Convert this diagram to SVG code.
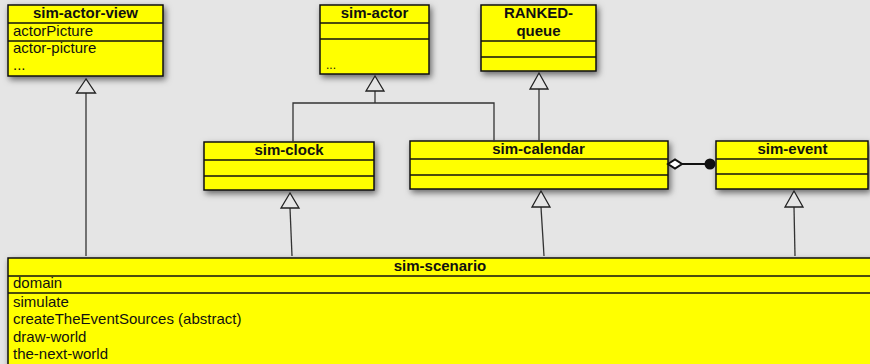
<svg xmlns="http://www.w3.org/2000/svg" width="870" height="364" viewBox="0 0 870 364">
<defs>
<filter id="sh" x="-10%" y="-20%" width="130%" height="150%">
<feDropShadow dx="2" dy="3" stdDeviation="3" flood-color="#000" flood-opacity="0.55"/>
</filter>
</defs>
<style>
.box{fill:#ffff00;stroke:#111;stroke-width:1.5}
.sep{stroke:#111;stroke-width:1.3;fill:none}
.t{font-family:"Liberation Sans",Arial,sans-serif;font-size:15px;font-weight:bold;fill:#111;text-anchor:middle}
.a{font-family:"Liberation Sans",Arial,sans-serif;font-size:15px;fill:#111}
.ln{stroke:#333;stroke-width:1.3;fill:none}
.tri{stroke:#222;stroke-width:1.3;fill:#e5e5e5}
</style>
<rect width="870" height="364" fill="#e5e5e5"/>
<g id="sim-actor-view">
<rect class="box" x="8" y="5" width="155" height="71" filter="url(#sh)"/>
<line class="sep" x1="8" y1="23" x2="163" y2="23"/>
<line class="sep" x1="8" y1="41" x2="163" y2="41"/>
<text class="t" x="85.5" y="18">sim-actor-view</text>
<text class="a" x="13" y="36">actorPicture</text>
<text class="a" x="13" y="53">actor-picture</text>
<text class="a" x="13" y="70">...</text>
</g>
<g id="sim-actor">
<rect class="box" x="320" y="5" width="109" height="69" filter="url(#sh)"/>
<line class="sep" x1="320" y1="23" x2="429" y2="23"/>
<line class="sep" x1="320" y1="39" x2="429" y2="39"/>
<text class="t" x="374.5" y="18">sim-actor</text>
<text class="a" x="326" y="69" style="font-size:12px">...</text>
</g>
<g id="RANKED-queue">
<rect class="box" x="481" y="5" width="115" height="66" filter="url(#sh)"/>
<line class="sep" x1="481" y1="41" x2="596" y2="41"/>
<line class="sep" x1="481" y1="57" x2="596" y2="57"/>
<text class="t" x="538.5" y="18">RANKED-</text>
<text class="t" x="538.5" y="36">queue</text>
</g>
<g id="sim-clock">
<rect class="box" x="204" y="142" width="170" height="48" filter="url(#sh)"/>
<line class="sep" x1="204" y1="160" x2="374" y2="160"/>
<line class="sep" x1="204" y1="176" x2="374" y2="176"/>
<text class="t" x="289" y="155">sim-clock</text>
</g>
<g id="sim-calendar">
<rect class="box" x="410" y="141" width="258" height="48" filter="url(#sh)"/>
<line class="sep" x1="410" y1="159" x2="668" y2="159"/>
<line class="sep" x1="410" y1="175" x2="668" y2="175"/>
<text class="t" x="538.5" y="154">sim-calendar</text>
</g>
<g id="sim-event">
<rect class="box" x="716" y="141" width="152" height="48" filter="url(#sh)"/>
<line class="sep" x1="716" y1="159" x2="868" y2="159"/>
<line class="sep" x1="716" y1="174" x2="868" y2="174"/>
<text class="t" x="792.5" y="154">sim-event</text>
</g>
<g id="sim-scenario">
<rect class="box" x="8" y="258" width="872" height="120" filter="url(#sh)"/>
<line class="sep" x1="8" y1="276" x2="870" y2="276"/>
<line class="sep" x1="8" y1="293" x2="870" y2="293"/>
<text class="t" x="440" y="271">sim-scenario</text>
<text class="a" x="13" y="288">domain</text>
<text class="a" x="13" y="307">simulate</text>
<text class="a" x="13" y="324">createTheEventSources (abstract)</text>
<text class="a" x="13" y="342">draw-world</text>
<text class="a" x="13" y="359">the-next-world</text>
</g>
<g id="connectors">
<line class="ln" x1="86" y1="256" x2="86" y2="93"/>
<polygon class="tri" points="86,79 76.5,93 95.5,93"/>
<polyline class="ln" points="293,142 293,103 494,103 494,142"/>
<line class="ln" x1="375" y1="103" x2="375" y2="91"/>
<polygon class="tri" points="375,76 366,91 384,91"/>
<line class="ln" x1="539" y1="141" x2="539" y2="89"/>
<polygon class="tri" points="539,73 530,89 548,89"/>
<line class="ln" x1="292" y1="256" x2="290" y2="208"/>
<polygon class="tri" points="290,193 281,208 299,208"/>
<line class="ln" x1="544" y1="256" x2="541" y2="207"/>
<polygon class="tri" points="541,191 532,207 550,207"/>
<line class="ln" x1="795" y1="256" x2="794" y2="207"/>
<polygon class="tri" points="794,191 785,207 803,207"/>
<line x1="682" y1="164" x2="706" y2="164" stroke="#111" stroke-width="2"/>
<polygon points="668,164 675,159.5 682,164 675,168.5" fill="#fff" stroke="#111" stroke-width="2"/>
<circle cx="710" cy="164" r="5.5" fill="#111"/>
</g>
</svg>
